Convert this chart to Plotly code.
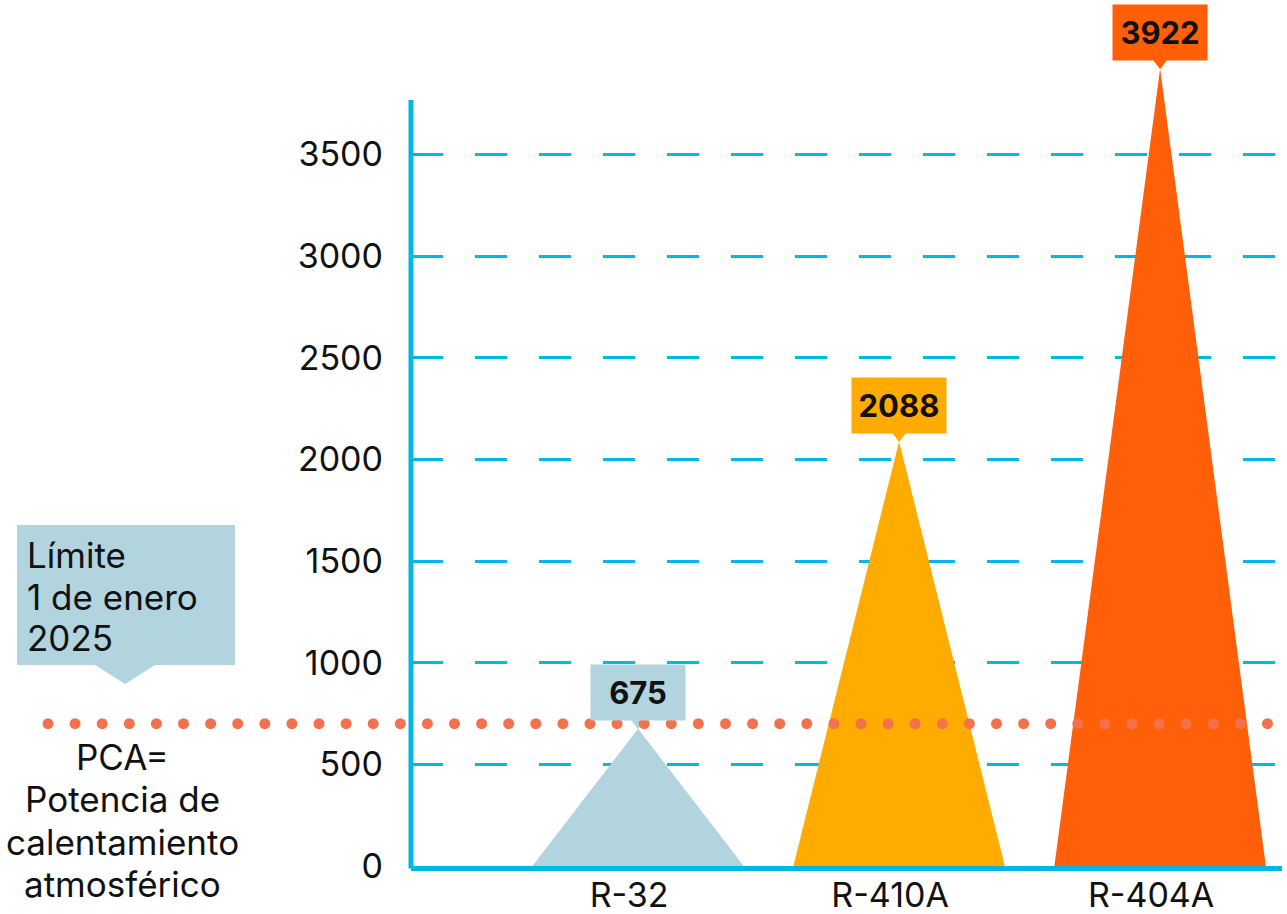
import numpy as np
import plotly.graph_objects as go

# ---- data ----
categories = ["R-32", "R-410A", "R-404A"]
gwp_values = [675, 2088, 3922]
value_labels = ["675", "2088", "3922"]
bar_colors = ["#b1d4de", "#ffab00", "#ff5f08"]
limit_value = 700
y_ticks = [0, 500, 1000, 1500, 2000, 2500, 3000, 3500]
limit_lines = ["Límite", "1 de enero", "2025"]
pca_lines = ["PCA=", "Potencia de", "calentamiento", "atmosférico"]

# ---- layout constants ----
W, H = 1287, 914
MR, MB = 5, 48
PLOT_LEFT = 411
PAPER_W = W - MR          # paper spans 0..1282 px (no left margin)
PH = H - MB               # 866
X_RANGE = [0.13, 3.467]
Y_RANGE = [0, 4260]
AXIS = "#00b8e6"
DOT = "#f4714e"
FONT = "Inter"
HALF = 0.405
TXT = "#111111"


def pxx(px):
    return px / PAPER_W


def pxy(py):
    return (PH - py) / PH


fig = go.Figure()

# triangles
for i, (cat, v, col) in enumerate(zip(categories, gwp_values, bar_colors)):
    xc = i + 1
    fig.add_trace(go.Scatter(
        x=[xc - HALF, xc, xc + HALF, xc - HALF], y=[0, v, 0, 0],
        fill="toself", fillcolor=col, mode="lines",
        line=dict(width=0, color=col), hoverinfo="skip", showlegend=False,
        xaxis="x", yaxis="y"))

# pointers of value boxes
fig.add_trace(go.Scatter(
    x=[i + 1 for i in range(len(categories))], y=gwp_values, mode="markers",
    marker=dict(symbol="triangle-up", angle=180, standoff=7, size=15,
                color=bar_colors, line=dict(width=0)),
    cliponaxis=False, hoverinfo="skip", showlegend=False,
    xaxis="x", yaxis="y"))

# dotted limit line on an overlay subplot that spans the full width
dot_x = list(np.arange(48, 1280, 27.1))
fig.add_trace(go.Scatter(
    x=dot_x, y=[limit_value] * len(dot_x), mode="markers",
    marker=dict(size=11, color=DOT), cliponaxis=False,
    hoverinfo="skip", showlegend=False, xaxis="x2", yaxis="y2"))

annotations = []
for i, (lab, v, col) in enumerate(zip(value_labels, gwp_values, bar_colors)):
    annotations.append(dict(
        x=i + 1, y=v, xref="x", yref="y", text="<b>" + lab + "</b>",
        showarrow=False, yanchor="bottom", yshift=8, width=94, height=55,
        bgcolor=col, borderpad=0, font=dict(family=FONT, size=31, color=TXT)))

for k, line in enumerate(limit_lines):
    annotations.append(dict(
        x=pxx(25), y=pxy(555 + 41.5 * k), xref="paper", yref="paper",
        text=line, showarrow=False, xanchor="left", yanchor="middle",
        font=dict(family=FONT, size=35, color=TXT)))
for k, line in enumerate(pca_lines):
    annotations.append(dict(
        x=pxx(122), y=pxy(757 + 42.3 * k), xref="paper", yref="paper",
        text=line, showarrow=False, xanchor="center", yanchor="middle",
        font=dict(family=FONT, size=35, color=TXT)))

box_pts = [(17, 525), (235, 525), (235, 665), (155, 665), (125, 684), (95, 665), (17, 665)]
path = "M " + " L ".join(f"{pxx(a):.5f},{pxy(b):.5f}" for a, b in box_pts) + " Z"

shapes = [
    dict(type="path", xref="paper", yref="paper", path=path,
         fillcolor="#b1d4de", line=dict(width=0), layer="below"),
    dict(type="line", xref="paper", yref="paper", x0=pxx(PLOT_LEFT), x1=pxx(PLOT_LEFT),
         y0=pxy(868.5), y1=pxy(100),
         line=dict(color=AXIS, width=5), layer="above"),
]

fig.update_layout(
    width=W, height=H,
    margin=dict(l=0, r=MR, t=0, b=MB, autoexpand=False),
    paper_bgcolor="white", plot_bgcolor="rgba(0,0,0,0)",
    showlegend=False,
    annotations=annotations, shapes=shapes,
    xaxis=dict(domain=[pxx(PLOT_LEFT), 1], range=X_RANGE, tickvals=[1, 2, 3],
               ticktext=categories, anchor="y", automargin=False,
               showgrid=False, zeroline=False, showline=True,
               linecolor=AXIS, linewidth=5, ticks="", ticklabelstandoff=-5,
               ticklabelshift=-9,
               tickfont=dict(family=FONT, size=34, color=TXT),
               fixedrange=True),
    yaxis=dict(domain=[0, 1], range=Y_RANGE, tickvals=y_ticks, anchor="x",
               automargin=False,
               showgrid=True, gridcolor=AXIS, gridwidth=2.5, griddash="32px,32px",
               zeroline=False, showline=False, ticks="", ticklabelstandoff=27,
               tickfont=dict(family=FONT, size=34, color=TXT),
               fixedrange=True),
    xaxis2=dict(domain=[0, 1], range=[0, PAPER_W], visible=False, anchor="y2",
                fixedrange=True, automargin=False),
    yaxis2=dict(domain=[0, 1], range=Y_RANGE, visible=False, anchor="x2",
                fixedrange=True, automargin=False),
    font=dict(family=FONT),
)

fig.write_html("out.html", config={"displayModeBar": False},
               post_script="document.body.style.margin='0';document.body.style.padding='0';")
